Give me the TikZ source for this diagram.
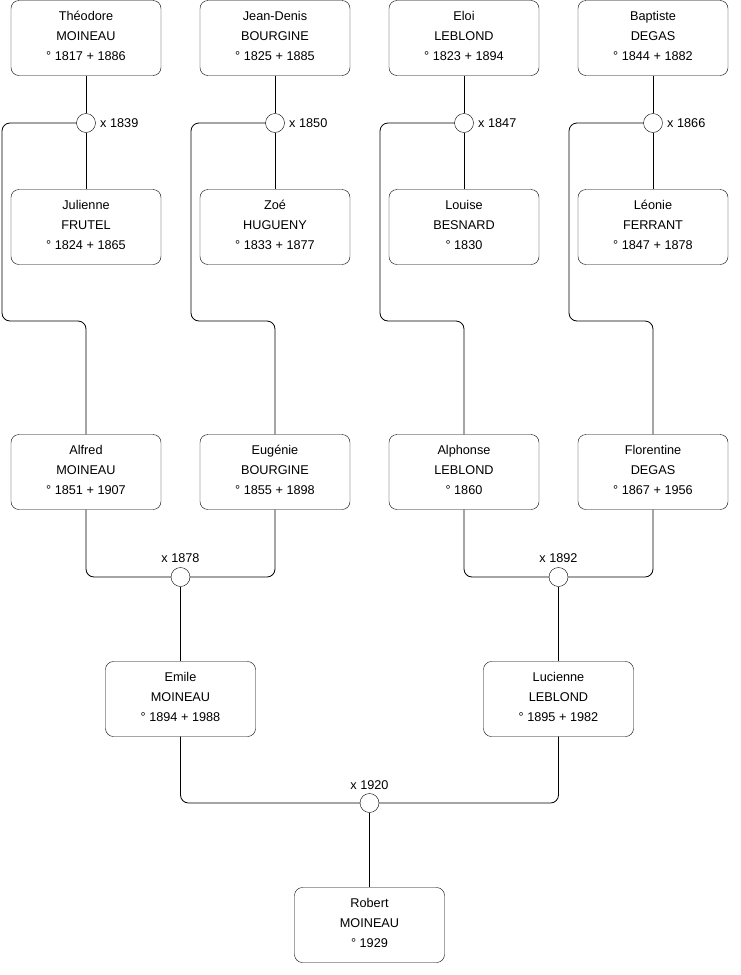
\documentclass[tikz,border=0pt]{standalone}
\usepackage{fontspec}
\setmainfont{Liberation Sans}
\begin{document}
\begin{tikzpicture}[x=1pt,y=-1pt,
  person/.style={draw, rounded corners=8pt, minimum width=150pt, minimum height=75pt, inner sep=0pt, align=center, text depth=4pt, font=\fontsize{12.7}{20}\selectfont},
  union/.style={draw, circle, fill=white, minimum size=19pt, inner sep=0pt},
  year/.style={font=\fontsize{12.7}{15}\selectfont, inner sep=0pt},
  link/.style={line width=0.8pt, rounded corners=8pt}]
\useasboundingbox (0,0) rectangle (740,975);
% top row
\node[person] (t1) at (86,38) {Théodore\\MOINEAU\\° 1817 + 1886};
\node[person] (t2) at (275,38) {Jean-Denis\\BOURGINE\\° 1825 + 1885};
\node[person] (t3) at (464,38) {Eloi\\LEBLOND\\° 1823 + 1894};
\node[person] (t4) at (653,38) {Baptiste\\DEGAS\\° 1844 + 1882};
% spouses
\node[person] (s1) at (86,227) {Julienne\\FRUTEL\\° 1824 + 1865};
\node[person] (s2) at (275,227) {Zoé\\HUGUENY\\° 1833 + 1877};
\node[person] (s3) at (464,227) {Louise\\BESNARD\\° 1830};
\node[person] (s4) at (653,227) {Léonie\\FERRANT\\° 1847 + 1878};
% unions row 1
\node[union] (m1) at (86,123) {};
\node[union] (m2) at (275,123) {};
\node[union] (m3) at (464,123) {};
\node[union] (m4) at (653,123) {};
\node[year, anchor=west] (y1) at (100,123) {x 1839};
\node[year, anchor=west] (y2) at (289,123) {x 1850};
\node[year, anchor=west] (y3) at (478,123) {x 1847};
\node[year, anchor=west] (y4) at (667,123) {x 1866};
% children row
\node[person] (c1) at (86,472) {Alfred\\MOINEAU\\° 1851 + 1907};
\node[person] (c2) at (275,472) {Eugénie\\BOURGINE\\° 1855 + 1898};
\node[person] (c3) at (464,472) {Alphonse\\LEBLOND\\° 1860};
\node[person] (c4) at (653,472) {Florentine\\DEGAS\\° 1867 + 1956};
% unions row 2
\node[union] (m5) at (180.5,577) {};
\node[union] (m6) at (558.5,577) {};
\node[year] (y5) at (180.5,558) {x 1878};
\node[year] (y6) at (558.5,558) {x 1892};
% grandchildren
\node[person] (g1) at (180.5,699) {Emile\\MOINEAU\\° 1894 + 1988};
\node[person] (g2) at (558.5,699) {Lucienne\\LEBLOND\\° 1895 + 1982};
\node[union] (m7) at (369.5,803) {};
\node[year] (y7) at (369.5,785) {x 1920};
\node[person] (r) at (369.5,925) {Robert\\MOINEAU\\° 1929};
% connectors row 1
\foreach \i/\x in {1/2,2/191,3/380,4/569}{
  \draw[link] (t\i.south) -- (m\i.north);
  \draw[link] (m\i.south) -- (s\i.north);
  \draw[link] (m\i.west) -| (\x,321) -| (c\i.north);
}
% connectors row 2
\draw[link] (c1.south) |- (m5.west);
\draw[link] (c2.south) |- (m5.east);
\draw[link] (c3.south) |- (m6.west);
\draw[link] (c4.south) |- (m6.east);
\draw[link] (m5.south) -- (g1.north);
\draw[link] (m6.south) -- (g2.north);
% connectors row 3
\draw[link] (g1.south) |- (m7.west);
\draw[link] (g2.south) |- (m7.east);
\draw[link] (m7.south) -- (r.north);
\end{tikzpicture}
\end{document}
